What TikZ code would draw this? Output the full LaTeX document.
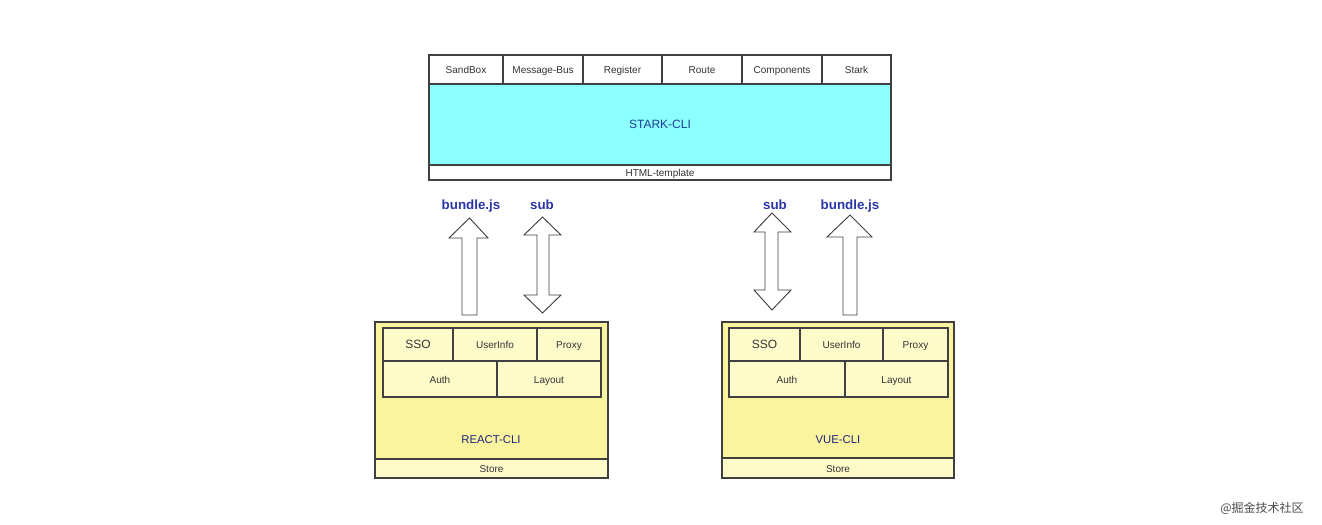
\documentclass[tikz,border=0pt]{standalone}
\usepackage{fontspec}
\setmainfont{Liberation Sans}
\newfontfamily\cjk{Noto Sans CJK SC}
\definecolor{cyanfill}{HTML}{8CFFFF}
\definecolor{yelout}{HTML}{FBF49E}
\definecolor{yelin}{HTML}{FEFBCB}
\definecolor{edge}{HTML}{404040}
\definecolor{txt}{HTML}{333333}
\definecolor{lblblue}{HTML}{2B36A8}
\definecolor{cliblue}{HTML}{1B3F9A}
\definecolor{navy}{HTML}{1C2580}
\tikzset{
  cellbox/.style={draw=edge, line width=0.8pt, inner sep=0pt, outer sep=0pt, text=txt, font=\fontsize{7.5}{8}\selectfont, text height=1.6ex, text depth=0.4ex},
  blockarrow/.style={draw=edge, fill=white, line width=0.7pt, line join=miter},
  lbl/.style={text=lblblue, font=\fontsize{10}{11}\selectfont\bfseries, inner sep=1pt, text height=1.6ex, text depth=0.4ex},
}
% \mycell{name}{x1}{y1}{x2}{y2}{style}{text}
\newcommand{\mycell}[7]{%
  \node[cellbox,#6, minimum width={(#4-#2)*0.75pt}, minimum height={(#5-#3)*0.75pt}] (#1) at ({(#2+#4)/2},{(#3+#5)/2}) {#7};}
\begin{document}
\begin{tikzpicture}[x=0.75pt,y=-0.75pt]
\useasboundingbox[fill=white] (0,0) rectangle (1322,525);

% ---- STARK-CLI block ----
\mycell{stark}{429}{84}{891}{165}{fill=cyanfill}{\textcolor{cliblue}{\fontsize{9}{10}\selectfont STARK-CLI}}
\mycell{html}{429}{165}{891}{180}{fill=white}{HTML-template}
\mycell{sandbox}{429}{55}{503}{84}{fill=white}{SandBox}
\mycell{msgbus}{503}{55}{583}{84}{fill=white}{Message-Bus}
\mycell{register}{583}{55}{662}{84}{fill=white}{Register}
\mycell{route}{662}{55}{742}{84}{fill=white}{Route}
\mycell{components}{742}{55}{822}{84}{fill=white}{Components}
\mycell{starkc}{822}{55}{891}{84}{fill=white}{Stark}

% ---- REACT-CLI block ----
\mycell{react}{375}{322}{608}{459}{fill=yelout}{}
\node[text=navy, font=\fontsize{8.5}{9}\selectfont] (reactlbl) at (491,440) {REACT-CLI};
\mycell{rstore}{375}{459}{608}{478}{fill=yelin}{Store}
\mycell{rsso}{383}{328}{453}{361}{fill=yelin, font=\fontsize{9}{10}\selectfont}{SSO}
\mycell{ruser}{453}{328}{537}{361}{fill=yelin}{UserInfo}
\mycell{rproxy}{537}{328}{601}{361}{fill=yelin}{Proxy}
\mycell{rauth}{383}{361}{497}{397}{fill=yelin}{Auth}
\mycell{rlayout}{497}{361}{601}{397}{fill=yelin}{Layout}

% ---- VUE-CLI block ----
\mycell{vue}{722}{322}{954}{458}{fill=yelout}{}
\node[text=navy, font=\fontsize{8.5}{9}\selectfont] (vuelbl) at (838,440) {VUE-CLI};
\mycell{vstore}{722}{458}{954}{478}{fill=yelin}{Store}
\mycell{vsso}{729}{328}{800}{361}{fill=yelin, font=\fontsize{9}{10}\selectfont}{SSO}
\mycell{vuser}{800}{328}{883}{361}{fill=yelin}{UserInfo}
\mycell{vproxy}{883}{328}{948}{361}{fill=yelin}{Proxy}
\mycell{vauth}{729}{361}{845}{397}{fill=yelin}{Auth}
\mycell{vlayout}{845}{361}{948}{397}{fill=yelin}{Layout}

% ---- block arrows ----
% left bundle.js (up)
\draw[blockarrow] (462,315) -- (462,238) -- (449,238) -- (469.5,218) -- (488,238) -- (477,238) -- (477,315) -- cycle;
% left sub (double)
\draw[blockarrow] (537,235) -- (524,235) -- (542.5,217) -- (561,235) -- (549,235) -- (549,295) -- (561,295) -- (542.5,313) -- (524,295) -- (537,295) -- cycle;
% right sub (double)
\draw[blockarrow] (765,232) -- (754,232) -- (772,213) -- (791,232) -- (778,232) -- (778,290) -- (791,290) -- (772,310) -- (754,290) -- (765,290) -- cycle;
% right bundle.js (up)
\draw[blockarrow] (843,315) -- (843,237) -- (827,237) -- (850,215) -- (872,237) -- (857,237) -- (857,315) -- cycle;

\node[lbl] (lbundle) at (471,205) {bundle.js};
\node[lbl] (lsub) at (542,205) {sub};
\node[lbl] (rsub) at (775,205) {sub};
\node[lbl] (rbundle) at (850,205) {bundle.js};

% watermark
\node[text=black!70, font=\cjk\fontsize{9}{10}\selectfont, inner sep=0pt] (wm) at (1262,508) {@掘金技术社区};
\end{tikzpicture}
\end{document}
